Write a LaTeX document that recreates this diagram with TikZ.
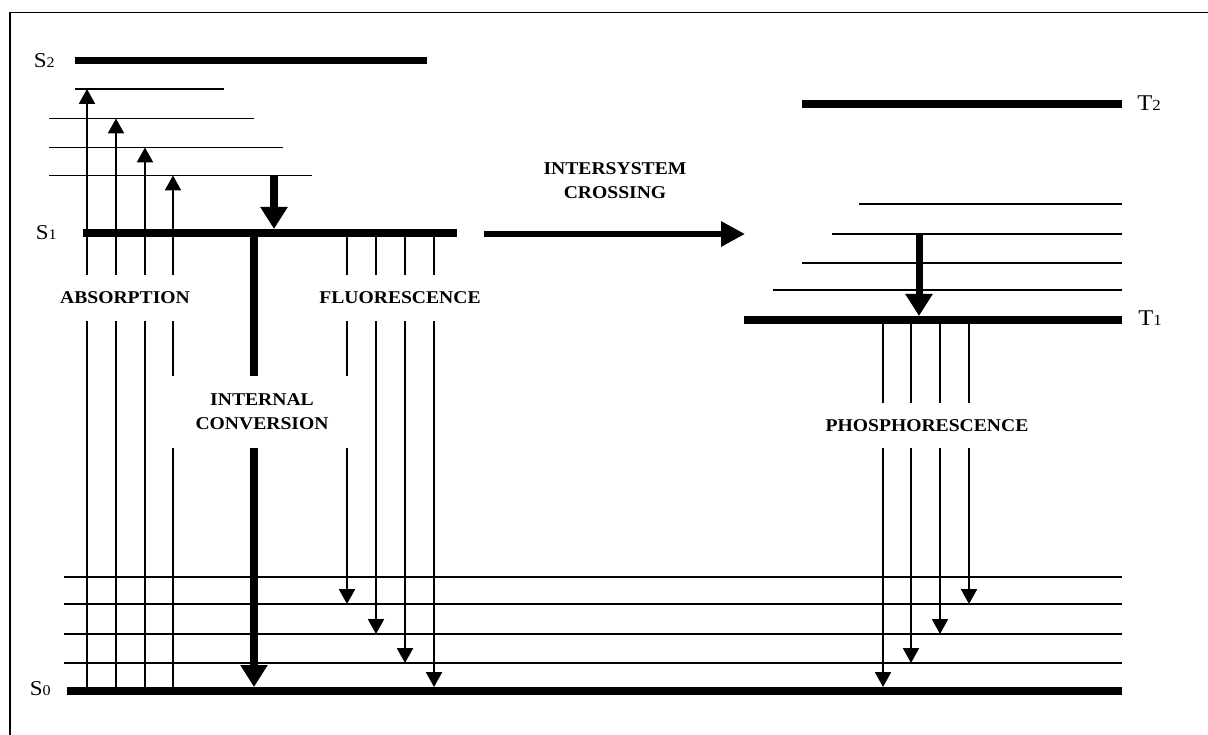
\documentclass[tikz,border=0pt]{standalone}
\usepackage{fontspec}
\setmainfont{Liberation Serif}
\newfontfamily\lblfont{Liberation Serif}[FakeStretch=1.09]
\usetikzlibrary{arrows.meta}
\newcommand{\lvlname}[3]{#1{\fontsize{#3}{#3}\selectfont #2}}

\begin{document}
\begin{tikzpicture}[
  x=0.025cm, y=-0.025cm,
  lvl/.style={line width=0.2cm},
  vib/.style={line width=1.2pt},
  rad/.style={line width=1.1pt,-{Triangle[width=0.4cm,length=0.37cm]}},
  ic/.style={line width=0.2cm,-{Triangle[width=0.65cm,length=0.55cm]}},
  isc/.style={line width=0.16cm,-{Triangle[width=0.6cm,length=0.6cm]}},
  lbl/.style={font=\lblfont\bfseries\fontsize{12.8}{17}\selectfont,fill=white,inner sep=0pt,align=center},
  statelbl/.style={font=\lblfont\fontsize{15}{15}\selectfont,inner sep=0pt}]
  \useasboundingbox (0,0) rectangle (1208,735);
  \draw[line width=1.2pt] (10,735) |- (1208,12.5);

  % vibrational levels
  \foreach \n/\y/\xa/\xb in {1/89/75/224,2/118.5/49/254,3/147.5/49/283,4/175.5/49/312}
    \draw[vib] (\xa,\y) coordinate (u\n) -- (\xb,\y);
  \foreach \n/\y in {1/577,2/604,3/634,4/663}
    \draw[vib] (64,\y) coordinate (g\n) -- (1122,\y);
  \foreach \n/\y/\xa in {1/204/859,2/234/832,3/263/802,4/290/773}
    \draw[vib] (\xa,\y) coordinate (t\n) -- (1122,\y);

  % electronic states
  \draw[lvl,line width=0.175cm] (75,61) coordinate (s2) -- (427,61);
  \draw[lvl,line width=0.2125cm] (83,233) coordinate (s1) -- (457,233);
  \draw[lvl] (67,691) coordinate (s0) -- (1122,691);
  \draw[lvl,line width=0.19cm] (802,104) coordinate (tt2) -- (1122,104);
  \draw[lvl] (744,320) coordinate (tt1) -- (1122,320);
  \coordinate (s1t) at (0,229);
  \coordinate (s0t) at (0,687);
  \coordinate (tt1t) at (0,316);

  \node[statelbl,anchor=east] (n-s2) at (55,61) {\lvlname{S}{2}{10.5}};
  \node[statelbl,anchor=east] (n-s1) at (57,233) {\lvlname{S}{1}{10.5}};
  \node[statelbl,anchor=east] (n-s0) at (51,689) {\lvlname{S}{0}{10.5}};
  \node[statelbl,anchor=west,font=\lblfont\fontsize{16}{16}\selectfont] (n-t2) at (1137,103) {\lvlname{T}{2}{11}};
  \node[statelbl,anchor=west,font=\lblfont\fontsize{16}{16}\selectfont] (n-t1) at (1138,318) {\lvlname{T}{1}{11}};

  % transitions
  \foreach \x/\n in {87/1,116/2,145/3,173/4}
    \draw[rad] (\x,0 |- s0) -- (\x,0 |- u\n);
  \foreach \x/\to in {347/g2,376/g3,405/g4,434/s0t}
    \draw[rad] (\x,0 |- s1) -- (\x,0 |- \to);
  \foreach \x/\to in {969/g2,940/g3,911/g4,883/s0t}
    \draw[rad] (\x,0 |- tt1) -- (\x,0 |- \to);
  \draw[ic] (274,0 |- u4) -- (274,0 |- s1t);
  \draw[ic] (254,0 |- s1) -- (254,0 |- s0t);
  \draw[ic,line width=0.175cm] (919,0 |- t2) -- (919,0 |- tt1t);
  \coordinate (isc-a) at (484,234);
  \coordinate (isc-b) at (745,234);
  \draw[isc] (isc-a) -- (isc-b);

  % labels
  \node[lbl,minimum height=1.15cm] (absorb) at (125,298) {ABSORPTION};
  \node[lbl,minimum height=1.15cm] (fluor) at (400,298) {FLUORESCENCE};
  \node[lbl,minimum width=4.65cm,minimum height=1.8cm] (intconv) at (262,412) {INTERNAL\\CONVERSION};
  \node[lbl,minimum height=1.125cm] (phosph) at (927,425.5) {PHOSPHORESCENCE};
  \node[lbl,fill=none] (isclbl) at (615,181) {INTERSYSTEM\\CROSSING};
\end{tikzpicture}
\end{document}
